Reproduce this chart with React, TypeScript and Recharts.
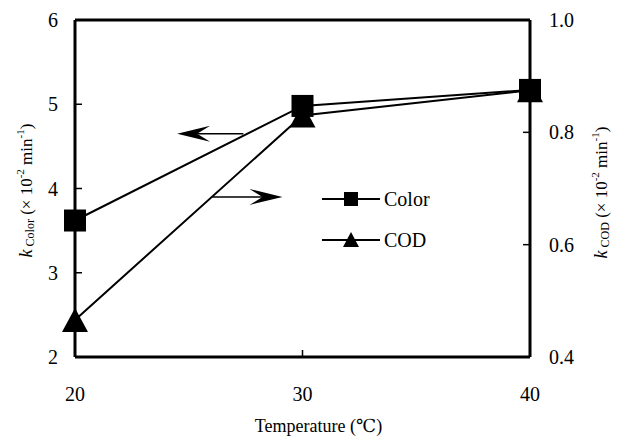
import React from 'react';
import { ComposedChart, Line, XAxis, YAxis, ReferenceLine, Legend } from 'recharts';

// ---- data ----
const temperatures = [20, 30, 40];
const kColor = [3.62, 4.98, 5.17];
const kCOD = [0.466, 0.83, 0.875];
const seriesNames = ['Color', 'COD'];
const xTicks = [20, 30, 40];
const leftTicks = [2, 3, 4, 5, 6];
const rightTicks = [0.4, 0.6, 0.8, 1.0];
// arrow annotations (data coords on left axis)
const arrowFromX = [27.4, 26.04];
const arrowToX = [24.49, 29.12];
const arrowY = [4.65, 3.9];

const data = temperatures.map((t, i) => ({ t, color: kColor[i], cod: kCOD[i] }));

const FONT = '"Liberation Serif", "DejaVu Serif", serif';

const SquareDot = (p: any) => {
  const { cx, cy } = p;
  if (cx == null || cy == null) return null;
  return <rect x={cx - 11} y={cy - 11} width={22} height={22} fill="#000" />;
};
const TriangleDot = (p: any) => {
  const { cx, cy } = p;
  if (cx == null || cy == null) return null;
  return <polygon points={`${cx},${cy - 12} ${cx - 13},${cy + 12} ${cx + 13},${cy + 12}`} fill="#000" />;
};

const Arrow = (p: any) => {
  const { x1, y1, x2, y2 } = p;
  const dir = Math.sign(x2 - x1) || 1;
  const L = 33, H = 8, N = 13;
  const back = x2 - dir * L;
  return (
    <g>
      <line x1={x1} y1={y1} x2={back + dir * N} y2={y2} stroke="#000" strokeWidth={1.5} />
      <polygon
        points={`${x2},${y2} ${back},${y2 - H} ${back + dir * N},${y2} ${back},${y2 + H}`}
        fill="#000"
      />
    </g>
  );
};

const LeftTitle = (p: any) => {
  const vb = p.viewBox || { x: 25, y: 20, width: 50, height: 337 };
  const cx = vb.x + 1;
  const cy = vb.y + vb.height / 2 + 2;
  return (
    <text x={cx} y={cy} transform={`rotate(-90, ${cx}, ${cy})`} textAnchor="middle" dominantBaseline="central"
      style={{ fontFamily: FONT }} fontSize={17} fill="#000">
      <tspan fontStyle="italic" fontSize={18}>k</tspan>
      <tspan fontSize={12} dy={4}> Color</tspan>
      <tspan dy={-4}> (× 10</tspan>
      <tspan fontSize={11} dy={-6}>-2</tspan>
      <tspan dy={6}> min</tspan>
      <tspan fontSize={11} dy={-6}>-1</tspan>
      <tspan dy={6}>)</tspan>
    </text>
  );
};

const RightTitle = (p: any) => {
  const vb = p.viewBox || { x: 530, y: 20, width: 60, height: 337 };
  const cx = vb.x + 71;
  const cy = vb.y + vb.height / 2 + 4;
  return (
    <text x={cx} y={cy} transform={`rotate(-90, ${cx}, ${cy})`} textAnchor="middle" dominantBaseline="central"
      style={{ fontFamily: FONT }} fontSize={17} fill="#000">
      <tspan fontStyle="italic" fontSize={18}>k</tspan>
      <tspan fontSize={12} dy={4}> COD</tspan>
      <tspan dy={-4}> (× 10</tspan>
      <tspan fontSize={11} dy={-6}>-2</tspan>
      <tspan dy={6}> min</tspan>
      <tspan fontSize={11} dy={-6}>-1</tspan>
      <tspan dy={6}>)</tspan>
    </text>
  );
};

const XTitle = (p: any) => {
  const vb = p.viewBox || { x: 75, y: 357, width: 455, height: 60 };
  const cx = vb.x + vb.width / 2 + 16;
  const cy = vb.y + 69;
  return (
    <text x={cx} y={cy} textAnchor="middle" dominantBaseline="central" style={{ fontFamily: FONT }} fontSize={18} fill="#000">
      Temperature (℃)
    </text>
  );
};

const LegendContent = () => (
  <div style={{ fontFamily: FONT, fontSize: 20, color: '#000' }}>
    {seriesNames.map((name, i) => (
      <div key={name} style={{ display: 'flex', alignItems: 'center', height: 22, marginBottom: i === 0 ? 19 : 0 }}>
        <svg width={58} height={22} style={{ display: 'block' }}>
          <line x1={0} x2={58} y1={11} y2={11} stroke="#000" strokeWidth={2} />
          {i === 0 ? (
            <rect x={22} y={4} width={14} height={14} fill="#000" />
          ) : (
            <polygon points="29,3 21,18 37,18" fill="#000" />
          )}
        </svg>
        <span style={{ marginLeft: 4, lineHeight: '22px' }}>{name}</span>
      </div>
    ))}
  </div>
);

const tickStyle = { fill: '#000', fontSize: 20, style: { fontFamily: FONT } };

export default function App() {
  return (
    <div style={{ position: 'absolute', left: 0, top: 0, background: '#fff', fontFamily: FONT }}>
      <ComposedChart width={624} height={437} data={data} margin={{ top: 20, right: 34, bottom: 20, left: 25 }}
        style={{ fontFamily: FONT }}>
        <XAxis
          dataKey="t"
          type="number"
          domain={[20, 40]}
          ticks={xTicks}
          interval={0}
          height={60}
          tickSize={-7}
          tickMargin={37}
          axisLine={{ stroke: '#000', strokeWidth: 3 }}
          tickLine={{ stroke: '#000', strokeWidth: 1.5 }}
          tick={tickStyle}
          label={<XTitle />}
        />
        <YAxis
          yAxisId="left"
          orientation="left"
          domain={[2, 6]}
          ticks={leftTicks}
          interval={0}
          width={50}
          tickSize={-7}
          tickMargin={24}
          axisLine={{ stroke: '#000', strokeWidth: 3 }}
          tickLine={{ stroke: '#000', strokeWidth: 1.5 }}
          tick={tickStyle}
          label={<LeftTitle />}
        />
        <YAxis
          yAxisId="right"
          orientation="right"
          domain={[0.4, 1.0]}
          ticks={rightTicks}
          interval={0}
          width={60}
          tickSize={-7}
          tickMargin={26}
          tickFormatter={(v: number) => v.toFixed(1)}
          axisLine={{ stroke: '#000', strokeWidth: 3 }}
          tickLine={{ stroke: '#000', strokeWidth: 1.5 }}
          tick={tickStyle}
          label={<RightTitle />}
        />
        <ReferenceLine yAxisId="left" y={6} stroke="#000" strokeWidth={3} />
        {arrowFromX.map((fx, i) => (
          <ReferenceLine
            key={`arrow-${i}`}
            yAxisId="left"
            segment={[{ x: fx, y: arrowY[i] }, { x: arrowToX[i], y: arrowY[i] }]}
            shape={Arrow}
          />
        ))}
        <Line
          yAxisId="left"
          dataKey="color"
          name={seriesNames[0]}
          stroke="#000"
          strokeWidth={2}
          dot={<SquareDot />}
          activeDot={false}
          isAnimationActive={false}
        />
        <Line
          yAxisId="right"
          dataKey="cod"
          name={seriesNames[1]}
          stroke="#000"
          strokeWidth={2}
          dot={<TriangleDot />}
          activeDot={false}
          isAnimationActive={false}
        />
        <Legend
          layout="horizontal"
          verticalAlign="middle"
          align="center"
          content={<LegendContent />}
          wrapperStyle={{ left: 322, top: 188, width: 'auto', height: 'auto' }}
        />
      </ComposedChart>
    </div>
  );
}
